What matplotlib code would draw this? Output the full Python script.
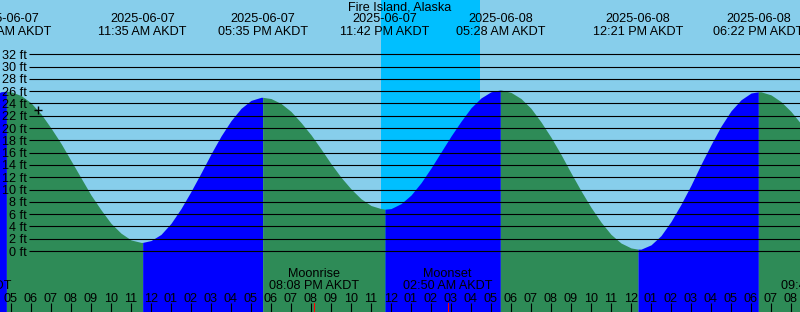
import numpy as np
import matplotlib
matplotlib.use('Agg')
import matplotlib.pyplot as plt

plt.rcParams['font.family'] = ['Liberation Sans', 'DejaVu Sans']
FS = 9.1

# water level read every half hour, hours counted from 2025-06-07 00:00 AKDT
hour_t = np.arange(4.0, 45.01, 0.5)
hour_ft = [25.2, 25.9, 25.9, 25.3, 24.1, 22.3, 20.0, 17.5, 14.7, 11.9, 9.1, 6.7, 4.5, 2.9, 1.8, 1.4,
	1.7, 2.7, 4.5, 6.9, 9.7, 12.7, 15.8, 18.7, 21.2, 23.2, 24.5, 25.0,
	24.8, 24.0, 22.7, 20.9, 18.9, 16.6, 14.2, 12.0, 10.1, 8.5, 7.4, 6.9,
	6.9, 7.7, 9.1, 11.1, 13.5, 16.1, 18.7, 21.1, 23.3, 24.9, 25.9, 26.2,
	25.8, 24.8, 23.2, 21.0, 18.5, 15.7, 12.7, 9.8, 7.1, 4.7, 2.7, 1.3, 0.5, 0.3,
	1.0, 2.5, 4.8, 7.6, 10.7, 14.1, 17.3, 20.3, 22.8, 24.6, 25.7, 25.9,
	25.4, 24.3, 22.7, 20.7, 18.4]

# high / low tides
ext_t = [4.77, 11.583, 17.583, 23.7, 29.467, 36.35, 42.367]
ext_ft = [26.0, 1.4, 25.0, 6.8, 26.2, 0.3, 25.9]
ext_kind = ['H', 'L', 'H', 'L', 'H', 'L', 'H']
ext_date = ['2025-06-07', '2025-06-07', '2025-06-07', '2025-06-07', '2025-06-08', '2025-06-08', '2025-06-08']
ext_time = ['04:46 AM AKDT', '11:35 AM AKDT', '05:35 PM AKDT', '11:42 PM AKDT', '05:28 AM AKDT', '12:21 PM AKDT', '06:22 PM AKDT']

# moon events
moon_name = ['Moonset', 'Moonrise', 'Moonset', 'Moonrise']
moon_t = [2.8, 20.133, 26.833, 45.733]
moon_time = ['02:48 AM AKDT', '08:08 PM AKDT', '02:50 AM AKDT', '09:44 PM AKDT']

# night (sunset -> sunrise)
sunset = 23.5
sunrise = 28.45

levels = list(range(0, 33, 2))
title = 'Fire Island, Alaska'

t = np.concatenate([hour_t, ext_t])
h = np.array(hour_ft + ext_ft)
o = np.argsort(t)
t, h = t[o], h[o]

W, H = 800, 312
fig = plt.figure(figsize=(W / 100, H / 100), dpi=100)
ax = fig.add_axes([0, 0, 1, 1])
x0, x1 = 4.45, 44.45
pxft = 6.147
y0, y1 = -61 / pxft, 251 / pxft
ax.set_xlim(x0, x1)
ax.set_ylim(y0, y1)
ax.set_facecolor('#87CEEB')
for s in ax.spines.values():
	s.set_visible(False)

ax.axvspan(sunset, sunrise, color='#00BFFF', lw=0, zorder=0.5)

# water: blue while rising, green while falling
bounds = [t[0]] + ext_t + [t[-1]]
for i in range(len(bounds) - 1):
	if i < len(ext_kind):
		rising = ext_kind[i] == 'H'
	else:
		rising = ext_kind[-1] == 'L'
	m = (t >= bounds[i]) & (t <= bounds[i + 1])
	ax.fill_between(t, y0, h, where=m, color='#0000FF' if rising else '#2E8B57', lw=0, zorder=1)

ax.hlines(levels, 29 / W, 1, transform=ax.get_yaxis_transform(), color='black', lw=0.8, zorder=2)

# current time marker
ax.plot([6.37], [22.9], marker='+', color='black', ms=6, mew=1, zorder=3)

# hour ticks
hrs = np.arange(5, 45)
ax.set_xticks(hrs)
ax.set_xticklabels(['%02d' % ((k % 12) or 12) for k in hrs])
ax.set_xticks([24], minor=True)
ax.tick_params(axis='x', which='major', direction='in', length=6.5, width=0.8, pad=-13.6, labelsize=FS, colors='black')
ax.tick_params(axis='x', which='minor', direction='in', length=6.5, width=2.2, color='black')

ax.set_yticks(levels)
ax.set_yticklabels(['%d ft' % v for v in levels])
ax.tick_params(axis='y', direction='in', length=0, pad=-27 * 0.72, labelsize=FS)
for lab in ax.get_yticklabels():
	lab.set_horizontalalignment('right')
ax.set_axisbelow(False)

xt = ax.get_xaxis_transform()
for i in range(len(ext_t)):
	ax.text(ext_t[i], 1 - 19.3 / H, ext_date[i], transform=xt, ha='center', va='center', fontsize=FS)
	ax.text(ext_t[i], 1 - 31.7 / H, ext_time[i], transform=xt, ha='center', va='center', fontsize=FS)

for i in range(len(moon_t)):
	ax.text(moon_t[i], 1 - 274 / H, moon_name[i], transform=xt, ha='center', va='center', fontsize=FS, clip_on=False)
	ax.text(moon_t[i], 1 - 285.7 / H, moon_time[i], transform=xt, ha='center', va='center', fontsize=FS, clip_on=False)
	ax.axvline(moon_t[i], 0, 9 / H, color='red', lw=0.8, zorder=3)

ax.text(0.5, 1 - 7.5 / H, title, transform=ax.transAxes, ha='center', va='center', fontsize=FS)

fig.savefig('out.png', dpi=100)
